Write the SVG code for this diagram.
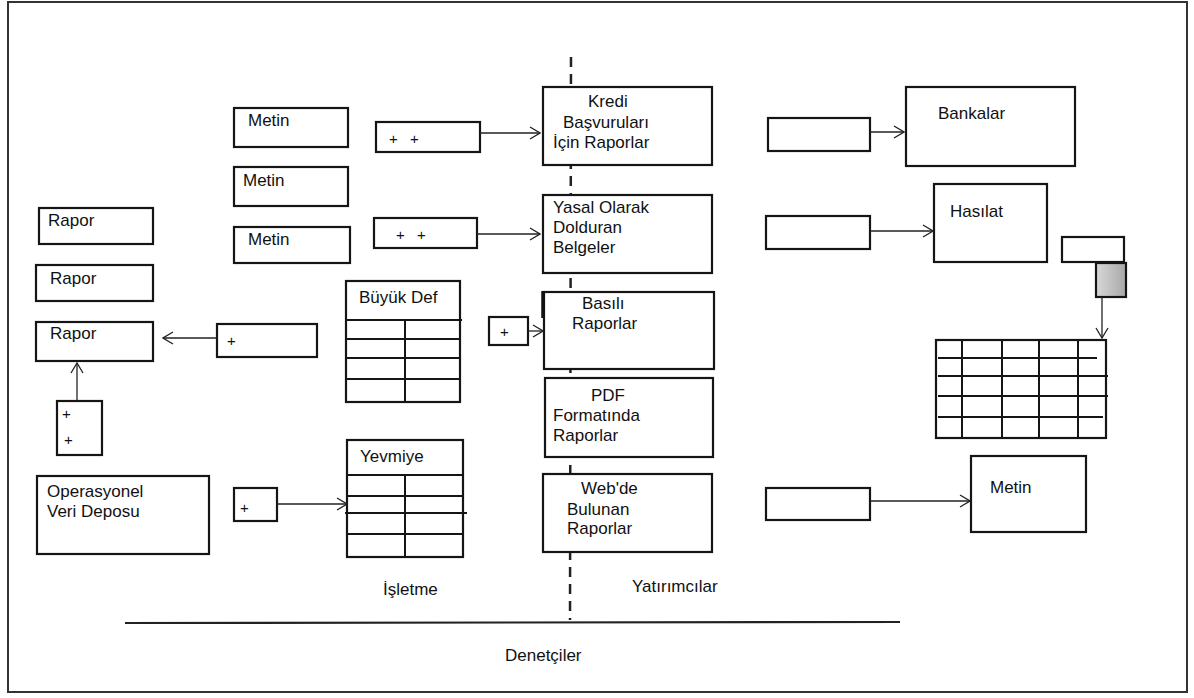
<svg xmlns="http://www.w3.org/2000/svg" width="1194" height="698" viewBox="0 0 1194 698">
  <defs>
    <marker id="open" viewBox="0 0 12 14" refX="11" refY="7" markerWidth="12" markerHeight="14" markerUnits="userSpaceOnUse" orient="auto">
      <path d="M1,1 L11,7 L1,13" fill="none" stroke="#222" stroke-width="1.3"/>
    </marker>
    <linearGradient id="shade" x1="0" y1="0" x2="1" y2="0">
      <stop offset="0" stop-color="#d8d8d8"/>
      <stop offset="1" stop-color="#a8a8a8"/>
    </linearGradient>
  </defs>
  <style>
    .box { fill: #fff; stroke: #151515; stroke-width: 2.2; }
    .grid { stroke: #151515; stroke-width: 2; fill: none; }
    .lbl { font-family: "Liberation Sans", Arial, sans-serif; font-size: 17px; fill: #111; }
    .plus { font-family: "Liberation Sans", Arial, sans-serif; font-size: 15px; fill: #111; }
    .conn { stroke: #222; stroke-width: 1.3; fill: none; }
    .divider { stroke: #222; fill: none; }
  </style>

  <rect x="0" y="0" width="1194" height="698" fill="#fff"/>
  <rect x="8" y="2" width="1179" height="690" fill="none" stroke="#333" stroke-width="2"/>

  <!-- dividing lines -->
  <g id="dividers">
    <line class="divider" x1="571" y1="57" x2="570" y2="620" stroke-dasharray="10,7" stroke-width="2.5"/>
    <line class="divider" x1="125" y1="623" x2="900" y2="622" stroke-width="2.2"/>
  </g>

  <!-- left column -->
  <g id="rapor1"><rect class="box" x="39" y="208" width="114" height="36"/><text class="lbl" x="48" y="226">Rapor</text></g>
  <g id="rapor2"><rect class="box" x="36" y="265" width="117" height="36"/><text class="lbl" x="50" y="284">Rapor</text></g>
  <g id="rapor3"><rect class="box" x="36" y="322" width="117" height="39"/><text class="lbl" x="50" y="339">Rapor</text></g>
  <g id="plusStack"><rect class="box" x="57" y="401" width="45" height="54"/><text class="plus" x="62" y="419">+</text><text class="plus" x="64" y="445">+</text></g>
  <g id="ods"><rect class="box" x="37" y="476" width="172" height="78"/><text class="lbl" x="47" y="497">Operasyonel</text><text class="lbl" x="47" y="517">Veri Deposu</text></g>
  <g id="plusOds"><rect class="box" x="234" y="488" width="43" height="33"/><text class="plus" x="240" y="513">+</text></g>
  <g id="plusRapor"><rect class="box" x="217" y="324" width="100" height="33"/><text class="plus" x="227" y="346">+</text></g>

  <!-- Metin boxes -->
  <g id="metin1"><rect class="box" x="234" y="108" width="114" height="39"/><text class="lbl" x="248" y="126">Metin</text></g>
  <g id="metin2"><rect class="box" x="234" y="167" width="114" height="39"/><text class="lbl" x="243" y="186">Metin</text></g>
  <g id="metin3"><rect class="box" x="234" y="227" width="116" height="36"/><text class="lbl" x="248" y="245">Metin</text></g>

  <g id="plusKredi"><rect class="box" x="376" y="122" width="104" height="30"/><text class="plus" x="389" y="144">+</text><text class="plus" x="410" y="144">+</text></g>
  <g id="plusYasal"><rect class="box" x="374" y="218" width="103" height="30"/><text class="plus" x="396" y="240">+</text><text class="plus" x="417" y="240">+</text></g>
  <g id="plusBasili"><rect class="box" x="489" y="317" width="39" height="28"/><text class="plus" x="500" y="337">+</text></g>

  <!-- ledger tables -->
  <g id="buyukDef">
    <rect class="box" x="346" y="281" width="114" height="121"/>
    <text class="lbl" x="359" y="303">Büyük Def</text>
    <path class="grid" d="M346,320 H462 M346,339 H460 M346,358 H460 M346,379 H460 M405,320 V402"/>
  </g>
  <g id="yevmiye">
    <rect class="box" x="347" y="440" width="116" height="117"/>
    <text class="lbl" x="360" y="462">Yevmiye</text>
    <path class="grid" d="M347,475 H463 M347,496 H463 M345,513 H467 M347,534 H463 M405,475 V557"/>
  </g>

  <!-- report boxes on the divider -->
  <g id="kredi"><rect class="box" x="543" y="87" width="169" height="78"/>
    <text class="lbl" x="588" y="107">Kredi</text><text class="lbl" x="563" y="128">Başvuruları</text><text class="lbl" x="553" y="148">İçin Raporlar</text></g>
  <g id="yasal"><rect class="box" x="543" y="195" width="169" height="78"/>
    <text class="lbl" x="553" y="213">Yasal Olarak</text><text class="lbl" x="553" y="233">Dolduran</text><text class="lbl" x="553" y="253">Belgeler</text></g>
  <g id="basili"><rect class="box" x="544" y="292" width="170" height="77"/>
    <line x1="543" y1="291" x2="543" y2="318" stroke="#111" stroke-width="3.5"/>
    <text class="lbl" x="582" y="309">Basılı</text><text class="lbl" x="572" y="329">Raporlar</text></g>
  <g id="pdf"><rect class="box" x="545" y="378" width="168" height="79"/>
    <text class="lbl" x="591" y="401">PDF</text><text class="lbl" x="553" y="421">Formatında</text><text class="lbl" x="553" y="441">Raporlar</text></g>
  <g id="web"><rect class="box" x="543" y="474" width="169" height="78"/>
    <text class="lbl" x="581" y="494">Web'de</text><text class="lbl" x="567" y="515">Bulunan</text><text class="lbl" x="567" y="534">Raporlar</text></g>

  <!-- right side -->
  <g id="blank1"><rect class="box" x="768" y="118" width="102" height="33"/></g>
  <g id="blank2"><rect class="box" x="766" y="216" width="104" height="33"/></g>
  <g id="blank3"><rect class="box" x="766" y="488" width="104" height="32"/></g>
  <g id="bankalar"><rect class="box" x="906" y="87" width="169" height="79"/><text class="lbl" x="938" y="119">Bankalar</text></g>
  <g id="hasilat"><rect class="box" x="934" y="184" width="113" height="78"/><text class="lbl" x="950" y="217">Hasılat</text></g>
  <g id="metinRight"><rect class="box" x="971" y="456" width="115" height="76"/><text class="lbl" x="990" y="493">Metin</text></g>
  <g id="smallA"><rect class="box" x="1062" y="237" width="62" height="25"/></g>
  <g id="smallB"><rect class="box" x="1096" y="263" width="30" height="34" style="fill:url(#shade)"/></g>
  <g id="bigGrid">
    <rect class="box" x="936" y="340" width="170" height="98"/>
    <path class="grid" d="M938,358 H1097 M938,376 H1108 M938,396 H1108 M938,417 H1103 M962,340 V438 M1002,340 V438 M1039,340 V438 M1078,340 V438"/>
  </g>

  <!-- connectors -->
  <g id="connectors">
    <line class="conn" x1="480" y1="133" x2="540" y2="133" marker-end="url(#open)"/>
    <line class="conn" x1="477" y1="234" x2="540" y2="234" marker-end="url(#open)"/>
    <line class="conn" x1="528" y1="331" x2="543" y2="331" marker-end="url(#open)"/>
    <line class="conn" x1="217" y1="338" x2="163" y2="338" marker-end="url(#open)"/>
    <line class="conn" x1="77" y1="401" x2="77" y2="363" marker-end="url(#open)"/>
    <line class="conn" x1="277" y1="504" x2="347" y2="504" marker-end="url(#open)"/>
    <line class="conn" x1="870" y1="132" x2="904" y2="132" marker-end="url(#open)"/>
    <line class="conn" x1="870" y1="231" x2="933" y2="231" marker-end="url(#open)"/>
    <line class="conn" x1="870" y1="501" x2="970" y2="501" marker-end="url(#open)"/>
    <line class="conn" x1="1102" y1="297" x2="1102" y2="338" marker-end="url(#open)"/>
  </g>

  <!-- region labels -->
  <g id="labels">
    <text class="lbl" x="383" y="595">İşletme</text>
    <text class="lbl" x="632" y="592">Yatırımcılar</text>
    <text class="lbl" x="505" y="661">Denetçiler</text>
  </g>
</svg>
